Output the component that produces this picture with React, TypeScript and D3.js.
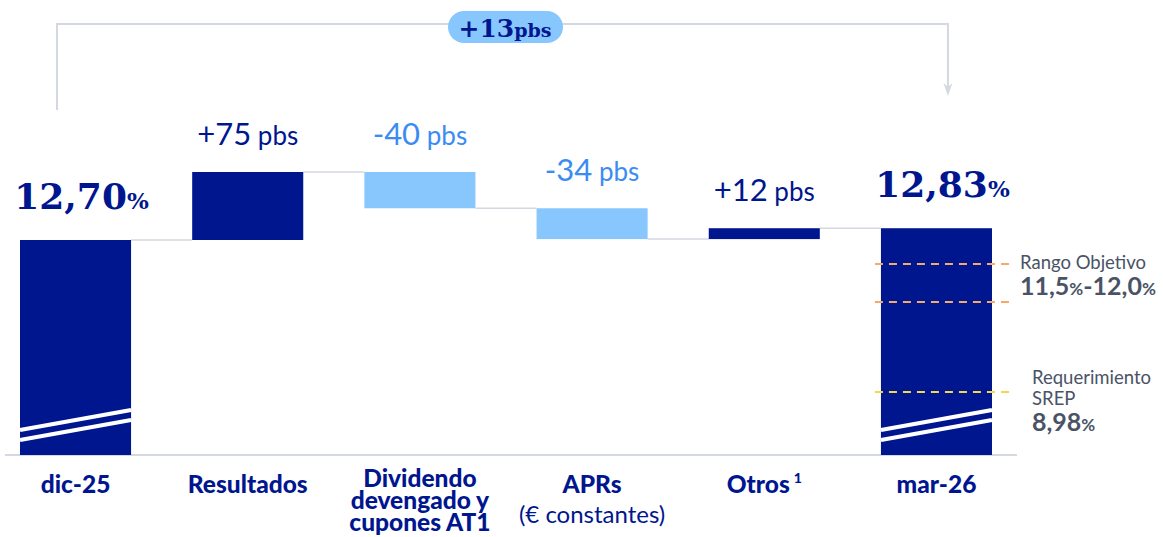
import { useEffect, useRef } from "react";
import { scaleBand, scaleLinear, select } from "d3";

// --- data -------------------------------------------------------------
const categories = ["dic-25", "Resultados", "Dividendo", "APRs", "Otros", "mar-26"];
const categoryLines = [
  ["dic-25"],
  ["Resultados"],
  ["Dividendo", "devengado y", "cupones AT1"],
  ["APRs"],
  ["Otros"],
  ["mar-26"],
];
const categorySubLabels = ["", "", "", "(€ constantes)", "", ""];
const categoryNotes = ["", "", "", "", "1", ""];
const startValue = 12.7; // %
const deltasPbs = [75, -40, -34, 12];
const endValue = 12.83; // %
const totalChangePbs = 13;
const targetRange = [11.5, 12.0];
const srepRequirement = 8.98;

const NAVY = "#00168f";
const LIGHT = "#88c7fd";
const NEG_TEXT = "#3b8cf2";
const GRAY_TEXT = "#4a5366";
const LINE = "#d3d8e1";

const W = 1163;
const H = 537;
const BASE_Y = 455;

const fmt = (v: number, d = 2) => v.toFixed(d).replace(".", ",");

export default function App() {
  const svgRef = useRef<SVGSVGElement | null>(null);

  useEffect(() => {
    document.body.style.margin = "0";
    if (!svgRef.current) return;
    const svg = select(svgRef.current);
    svg.selectAll("*").remove();

    const x = scaleBand<string>().domain(categories).range([20, 992]).paddingInner(0.355).paddingOuter(0);
    const bw = x.bandwidth();
    // broken axis: the bottom of the totals is cut, so the scale is piecewise
    const y = scaleLinear()
      .domain([srepRequirement, targetRange[0], targetRange[1], startValue, startValue + deltasPbs[0] / 100])
      .range([392, 302, 264, 240, 172]);

    // waterfall steps
    const steps: { cat: string; from: number; to: number; delta: number }[] = [];
    let level = startValue;
    deltasPbs.forEach((d, i) => {
      const next = level + d / 100;
      steps.push({ cat: categories[i + 1], from: level, to: next, delta: d });
      level = next;
    });

    // bracket with arrow
    const bx0 = (x("dic-25") ?? 0) + 37;
    const bx1 = (x("mar-26") ?? 0) + 67;
    svg
      .append("path")
      .attr("d", `M${bx0},110 V24 H${bx1} V92`)
      .attr("fill", "none")
      .attr("stroke", LINE)
      .attr("stroke-width", 2);
    svg
      .append("path")
      .attr("d", `M${bx1 - 4.5},83 L${bx1},96 L${bx1 + 4.5},83 L${bx1},87 Z`)
      .attr("fill", LINE);

    const pillCx = 505;
    svg
      .append("rect")
      .attr("x", pillCx - 57)
      .attr("y", 11)
      .attr("width", 115)
      .attr("height", 32)
      .attr("rx", 16)
      .attr("fill", LIGHT);
    const pillText = svg
      .append("text")
      .attr("x", pillCx)
      .attr("y", 36.5)
      .attr("text-anchor", "middle")
      .attr("font-family", "DejaVu Serif")
      .attr("font-weight", "bold")
      .attr("fill", NAVY);
    pillText.append("tspan").attr("font-size", 25).text(`+${totalChangePbs}`);
    pillText.append("tspan").attr("font-size", 19).text("pbs");

    // axis baseline
    svg
      .append("line")
      .attr("x1", 5)
      .attr("x2", 1017)
      .attr("y1", BASE_Y)
      .attr("y2", BASE_Y)
      .attr("stroke", LINE)
      .attr("stroke-width", 2);

    // connectors
    const levels = [startValue, ...steps.map((s) => s.to)];
    levels.forEach((v, i) => {
      const x1 = (x(categories[i]) ?? 0) + bw;
      const x2 = x(categories[i + 1]) ?? 0;
      svg
        .append("line")
        .attr("x1", x1)
        .attr("x2", x2)
        .attr("y1", y(v))
        .attr("y2", y(v))
        .attr("stroke", LINE)
        .attr("stroke-width", 1.5);
    });

    // total bars
    const totals = [
      { cat: "dic-25", value: startValue },
      { cat: "mar-26", value: endValue },
    ];
    totals.forEach((t) => {
      const bx = x(t.cat) ?? 0;
      svg
        .append("rect")
        .attr("x", bx)
        .attr("y", y(t.value))
        .attr("width", bw)
        .attr("height", BASE_Y - y(t.value))
        .attr("fill", NAVY);
      // break marks
      [0, 10].forEach((off) => {
        svg
          .append("line")
          .attr("x1", bx)
          .attr("x2", bx + bw)
          .attr("y1", 430 + off)
          .attr("y2", 410 + off)
          .attr("stroke", "#fff")
          .attr("stroke-width", 4);
      });
      const lbl = svg
        .append("text")
        .attr("x", bx + bw / 2 + 6)
        .attr("y", y(t.value) - 31)
        .attr("text-anchor", "middle")
        .attr("font-family", "DejaVu Serif")
        .attr("font-weight", "bold")
        .attr("fill", NAVY);
      lbl.append("tspan").attr("font-size", 36).text(fmt(t.value));
      lbl.append("tspan").attr("font-size", 23).text("%");
    });

    // delta bars
    steps.forEach((s) => {
      const bx = x(s.cat) ?? 0;
      const top = y(Math.max(s.from, s.to));
      const bottom = y(Math.min(s.from, s.to));
      svg
        .append("rect")
        .attr("x", bx)
        .attr("y", top)
        .attr("width", bw)
        .attr("height", bottom - top)
        .attr("fill", s.delta > 0 ? NAVY : LIGHT);
      const lbl = svg
        .append("text")
        .attr("x", bx + bw / 2)
        .attr("y", top - 27)
        .attr("text-anchor", "middle")
        .attr("font-family", "Lato")
        .attr("fill", s.delta > 0 ? NAVY : NEG_TEXT);
      lbl.append("tspan").attr("font-size", 31).text(`${s.delta > 0 ? "+" : ""}${s.delta}`);
      lbl.append("tspan").attr("font-size", 26).text(" pbs");
    });

    // reference lines on mar-26
    const mx = x("mar-26") ?? 0;
    const refs = [
      { v: targetRange[1], color: "#f7a96a" },
      { v: targetRange[0], color: "#f7a96a" },
      { v: srepRequirement, color: "#f6d64a" },
    ];
    refs.forEach((r) => {
      svg
        .append("line")
        .attr("x1", mx - 6)
        .attr("x2", 1009)
        .attr("y1", y(r.v))
        .attr("y2", y(r.v))
        .attr("stroke", r.color)
        .attr("stroke-width", 2)
        .attr("stroke-dasharray", "8 6");
    });

    const ann = svg.append("g").attr("font-family", "Lato").attr("fill", GRAY_TEXT);
    ann.append("text").attr("x", 1020).attr("y", 269).attr("font-size", 18.5).text("Rango Objetivo");
    const rng = ann.append("text").attr("x", 1020).attr("y", 295).attr("font-weight", "bold");
    rng.append("tspan").attr("font-size", 25).text(fmt(targetRange[0], 1));
    rng.append("tspan").attr("font-size", 17).text("%");
    rng.append("tspan").attr("font-size", 25).text("-" + fmt(targetRange[1], 1));
    rng.append("tspan").attr("font-size", 17).text("%");
    ann.append("text").attr("x", 1032).attr("y", 384).attr("font-size", 18.5).text("Requerimiento");
    ann.append("text").attr("x", 1032).attr("y", 405).attr("font-size", 18.5).text("SREP");
    const srep = ann.append("text").attr("x", 1032).attr("y", 431).attr("font-weight", "bold");
    srep.append("tspan").attr("font-size", 25).text(fmt(srepRequirement));
    srep.append("tspan").attr("font-size", 17).text("%");

    // category labels
    categories.forEach((c, i) => {
      const cx = (x(c) ?? 0) + bw / 2;
      const lines = categoryLines[i];
      const y0 = lines.length > 1 ? 487 : 493;
      lines.forEach((ln, j) => {
        const t = svg
          .append("text")
          .attr("x", cx)
          .attr("y", y0 + j * 22)
          .attr("text-anchor", "middle")
          .attr("font-family", "Lato")
          .attr("font-weight", 900)
          .attr("font-size", 24.5)
          .attr("fill", NAVY)
          .text(ln);
        if (categoryNotes[i]) {
          t.append("tspan").attr("font-size", 14).attr("dx", 4).attr("dy", -10).text(categoryNotes[i]);
        }
      });
      if (categorySubLabels[i]) {
        svg
          .append("text")
          .attr("x", cx)
          .attr("y", 523)
          .attr("text-anchor", "middle")
          .attr("font-family", "Lato")
          .attr("font-size", 24)
          .attr("fill", NAVY)
          .text(categorySubLabels[i]);
      }
    });
  }, []);

  return <svg ref={svgRef} width={W} height={H} style={{ display: "block" }} />;
}
